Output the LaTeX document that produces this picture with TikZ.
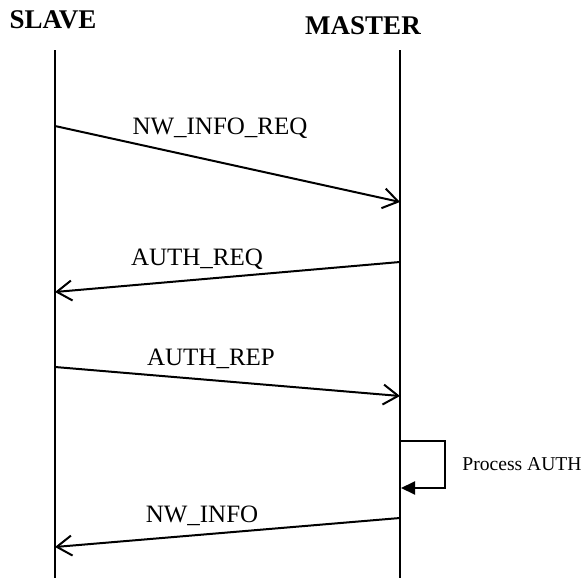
\documentclass[tikz,border=0pt]{standalone}
\usepackage{fontspec}
\setmainfont{Liberation Serif}
\usetikzlibrary{arrows.meta}

\begin{document}
\begin{tikzpicture}[x=0.5pt, y=-0.5pt,
  lifeLine/.style={line width=1.3pt},
  msgArrow/.style={line width=1pt, -{Straight Barb[length=7.5pt,width=10pt,line width=1pt]}},
  msgLabel/.style={anchor=base, inner sep=0pt, font=\fontsize{12.5}{14}\selectfont},
  headLabel/.style={anchor=base, inner sep=0pt, font=\fontsize{13.5}{15}\selectfont\bfseries}
  ]

\useasboundingbox (0,0) rectangle (585,578);

% heads and lifelines
\node[headLabel] (slave) at (53,28) {SLAVE};
\node[headLabel] (master) at (363,34) {MASTER};

\coordinate (slaveTop) at (55,50);
\coordinate (slaveBot) at (55,578);
\coordinate (masterTop) at (400,50);
\coordinate (masterBot) at (400,578);

\draw[lifeLine] (slaveTop) -- (slaveBot);
\draw[lifeLine] (masterTop) -- (masterBot);


% messages
\coordinate (reqA) at (55,126);
\coordinate (reqB) at (400,202);
\draw[msgArrow] (reqA) -- (reqB);
\node[msgLabel] (reqLbl) at (220,134) {NW\_INFO\_REQ};

\coordinate (authqA) at (400,262);
\coordinate (authqB) at (55,292);
\draw[msgArrow] (authqA) -- (authqB);
\node[msgLabel] (authqLbl) at (197,265) {AUTH\_REQ};

\coordinate (authpA) at (55,367);
\coordinate (authpB) at (400,396);
\draw[msgArrow] (authpA) -- (authpB);
\node[msgLabel] (authpLbl) at (211,365) {AUTH\_REP};


% self loop
\coordinate (loopA) at (400,441);
\coordinate (loopB) at (445,441);
\coordinate (loopC) at (445,488);
\coordinate (loopD) at (401,488);
\draw[line width=1pt, -{Triangle[length=7pt,width=6.5pt]}] (loopA) -- (loopB) -- (loopC) -- (loopD);
\node[anchor=base west, inner sep=0pt, font=\fontsize{9.8}{12}\selectfont] (procLbl) at (462,470) {Process AUTH};


\coordinate (infoA) at (400,518);
\coordinate (infoB) at (55,547);
\draw[msgArrow] (infoA) -- (infoB);
\node[msgLabel] (infoLbl) at (202,522) {NW\_INFO};

\end{tikzpicture}
\end{document}
